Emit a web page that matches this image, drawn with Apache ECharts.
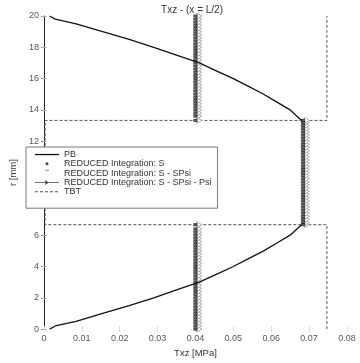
<!DOCTYPE html>
<html><head><meta charset="utf-8">
<script src="https://cdn.jsdelivr.net/npm/echarts@6/dist/echarts.min.js"></script>
<style>html,body{margin:0;padding:0;background:#fff}#c{width:360px;height:363px}</style>
</head><body><div id="c"></div>
<script>
// ---- data ----
const titleText = "Txz - (x = L/2)";
const xName = "Txz [MPa]";
const yName = "r [mm]";
const xTicks = ["0","0.01","0.02","0.03","0.04","0.05","0.06","0.07","0.08"];
const seriesNames = ["PB","REDUCED Integration: S","REDUCED Integration: S - SPsi","REDUCED Integration: S - SPsi - Psi","TBT"];

// PB curve (bottom half): z [mm] and Txz [MPa]
const pbZ = [0, 0.2, 0.5, 1, 1.5, 2, 2.5, 3, 3.5, 4, 4.5, 5, 5.5, 6, 6.67];
const pbT = [0.0015, 0.003, 0.0085, 0.0155, 0.0225, 0.029, 0.035, 0.041, 0.0455, 0.050, 0.054, 0.058, 0.0615, 0.065, 0.068];
// PB curve top half
const pbZtop = [13.33, 14, 14.5, 15, 15.5, 16, 16.5, 17, 17.5, 18, 18.5, 19, 19.5, 19.8, 20];
const pbTtop = [0.068, 0.065, 0.0615, 0.058, 0.054, 0.050, 0.0455, 0.041, 0.035, 0.029, 0.0225, 0.0155, 0.0085, 0.003, 0.0015];

// Layer-wise reduced-integration values (layers: 0-6.67, 6.67-13.33, 13.33-20 mm)
const valS        = [0.0400, 0.0684, 0.0400];
const valSSPsi    = [0.0400, 0.0684, 0.0400];
const valSSPsiPsi = [0.0410, 0.0694, 0.0410];
// integration mesh points through the thickness (boundary repeated per layer)
const zMesh = [0,0.2,0.4,0.6,0.8,1,1.2,1.4,1.6,1.8,2,2.2,2.4,2.6,2.8,3,3.2,3.4,3.6,3.8,4,4.2,4.4,4.6,4.8,5,5.2,5.4,5.6,5.8,6,6.2,6.4,6.67,
  6.67,6.8,7,7.2,7.4,7.6,7.8,8,8.2,8.4,8.6,8.8,9,9.2,9.4,9.6,9.8,10,10.2,10.4,10.6,10.8,11,11.2,11.4,11.6,11.8,12,12.2,12.4,12.6,12.8,13,13.2,13.33,
  13.33,13.6,13.8,14,14.2,14.4,14.6,14.8,15,15.2,15.4,15.6,15.8,16,16.2,16.4,16.6,16.8,17,17.2,17.4,17.6,17.8,18,18.2,18.4,18.6,18.8,19,19.2,19.4,19.6,19.8,20];

// TBT step profile
const tbtT = [0.0747, 0.0747, 0.0003, 0.0003, 0.0747, 0.0747];
const tbtZ = [0, 6.67, 6.67, 13.33, 13.33, 20];

// ---- build ----
const lidx = [];
{ let li = 0; for (let i = 0; i < zMesh.length; i++) { if (i > 0 && zMesh[i] === zMesh[i-1]) li++; lidx.push(li); } }
function stepData(vals, breakLayers) {
  const d = [];
  for (let i = 0; i < zMesh.length; i++) {
    if (breakLayers && i > 0 && lidx[i] !== lidx[i-1]) d.push(null);
    d.push([vals[lidx[i]], zMesh[i]]);
  }
  return d;
}
const pbData = pbZ.map((z,i)=>[pbT[i], z]).concat([null], pbZtop.map((z,i)=>[pbTtop[i], z]));
const tbtData = tbtZ.map((z,i)=>[tbtT[i], z]);

const font = "Liberation Sans, Arial, sans-serif";
const chart = echarts.init(document.getElementById('c'), null, {renderer:'canvas'});
chart.setOption({
  animation: false,
  backgroundColor: '#fff',
  title: { text: titleText, left: 187, top: 0, textAlign: 'center',
    textStyle: { fontFamily: font, fontSize: 10, fontWeight: 'normal', color: '#333' } },
  grid: { left: 26, right: 13, top: 16, bottom: 28 },
  xAxis: [{
    type: 'value', min: 0, max: 0.08, interval: 0.01,
    name: xName, nameLocation: 'middle', nameGap: 17,
    nameTextStyle: { fontFamily: font, fontSize: 9.5, color: '#333' },
    axisLine: { show: false },
    axisTick: { show: true, inside: true, length: 3, lineStyle: { color: '#ddd' } },
    splitLine: { show: false },
    axisLabel: { fontFamily: font, fontSize: 9, color: '#555', margin: 5,
      formatter: (v) => xTicks[Math.round(v*100)] }
  }, {
    type: 'value', position: 'top', min: 0, max: 0.08, interval: 0.01,
    axisLine: { show: false }, axisLabel: { show: false }, splitLine: { show: false },
    axisTick: { show: true, inside: true, length: 3, lineStyle: { color: '#ddd' } }
  }],
  yAxis: [{
    type: 'value', min: 0, max: 20, interval: 2,
    name: yName, nameLocation: 'middle', nameGap: 17, nameRotate: 90,
    nameTextStyle: { fontFamily: font, fontSize: 9.5, color: '#333' },
    axisLine: { show: true, lineStyle: { color: '#222', width: 1 } },
    axisTick: { show: true, inside: true, length: 3, lineStyle: { color: '#bbb' } },
    splitLine: { show: false },
    axisLabel: { fontFamily: font, fontSize: 9, color: '#555', margin: 5 }
  }, {
    type: 'value', position: 'right', min: 0, max: 20, interval: 2,
    axisLine: { show: false }, axisLabel: { show: false }, splitLine: { show: false },
    axisTick: { show: true, inside: true, length: 3, lineStyle: { color: '#999' } }
  }],
  legend: {
    orient: 'vertical', left: 26, top: 147,
    padding: [3, 6, 12, 9], itemGap: 0.3, itemWidth: 24, itemHeight: 8,
    backgroundColor: '#fff', borderColor: '#777', borderWidth: 1,
    textStyle: { fontFamily: font, fontSize: 9, color: '#333', lineHeight: 9 },
    data: [
      { name: seriesNames[0], icon: 'path://M0,0M24,8M0,3.4h24v1.3h-24z', itemStyle: { color: '#111', opacity: 1 } },
      { name: seriesNames[1], icon: 'path://M0,0M24,8M10.7,2.6h2.6v2.6h-2.6z', itemStyle: { color: '#111' } },
      { name: seriesNames[2], icon: 'path://M0,0M24,8M10,0.6h4v1.2h-4z', itemStyle: { color: '#888' } },
      { name: seriesNames[3], icon: 'path://M0,0M24,8M0,3.6h24v0.8h-24zM10,1.5l4,2.5l-4,2.5l0.6,-2.5z', itemStyle: { color: '#444', borderWidth: 0 } },
      { name: seriesNames[4], icon: 'path://M0,0M24,8M0,3.5h3v1h-3zM5,3.5h3v1h-3zM10,3.5h3v1h-3zM15,3.5h3v1h-3zM20,3.5h3v1h-3z', itemStyle: { color: '#555' } }
    ]
  },
  series: [
    { name: seriesNames[4], type: 'line', data: tbtData, showSymbol: false, symbol: 'none',
      lineStyle: { color: '#555', width: 1, type: [3, 2] }, itemStyle: { color: '#555' }, z: 1 },
    { name: seriesNames[3], type: 'line', data: stepData(valSSPsiPsi, true), connectNulls: false,
      symbol: 'triangle', symbolRotate: -90, symbolSize: [6, 5],
      lineStyle: { color: '#999', width: 0.6 },
      itemStyle: { color: '#fff', borderColor: '#999', borderWidth: 0.8 }, z: 2 },
    { name: seriesNames[1], type: 'scatter', data: stepData(valS, false),
      symbol: 'rect', symbolSize: [4, 3], itemStyle: { color: '#111' }, z: 3 },
    { name: seriesNames[2], type: 'scatter', data: stepData(valSSPsi, false),
      symbol: 'rect', symbolSize: [5, 1], itemStyle: { color: '#777' }, z: 4 },
    { name: seriesNames[0], type: 'line', data: pbData, connectNulls: false, showSymbol: false, symbol: 'none',
      lineStyle: { color: '#111', width: 1.3 }, itemStyle: { color: '#111' }, z: 5 }
  ]
});
</script></body></html>
